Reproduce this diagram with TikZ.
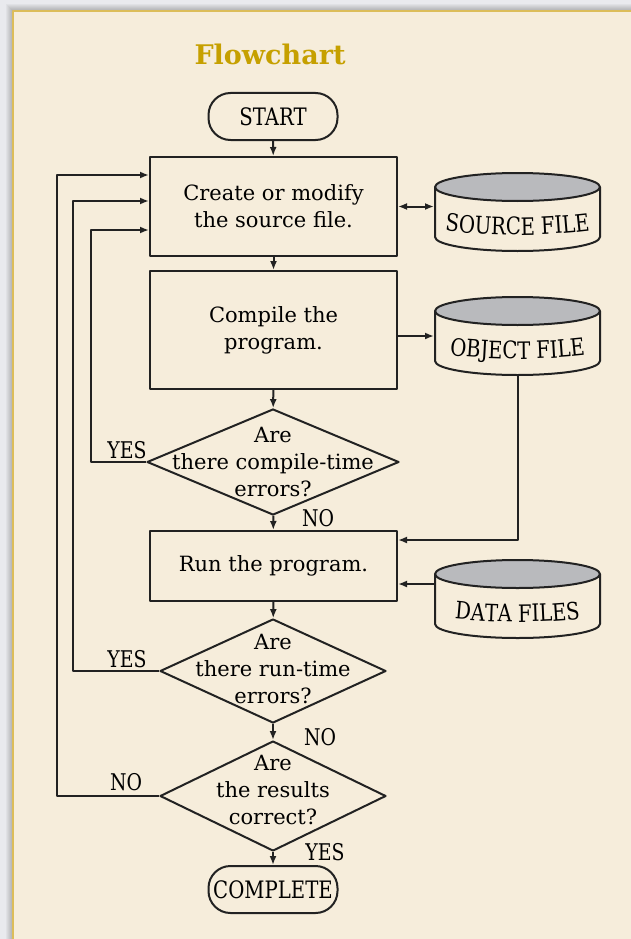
\documentclass[tikz,border=0pt]{standalone}
\usepackage{fontspec}
\setmainfont{DejaVu Serif}
\newfontfamily\condserif{DejaVu Serif}[FakeStretch=0.82]
\usetikzlibrary{shapes.geometric,arrows.meta,decorations.text}

\definecolor{page}{HTML}{E9EAEE}
\definecolor{paper}{HTML}{F6EDDB}
\definecolor{rim}{HTML}{DCBD5A}
\definecolor{titlegold}{HTML}{C6A000}
\definecolor{ink}{HTML}{222222}
\definecolor{lid}{HTML}{B9BABD}

% storage drum: name, centre x, lid centre y, label
\newcommand\drum[4]{%
  \node[minimum width=165pt, minimum height=78pt, inner sep=0pt] (#1) at (#2,#3+25) {};
  \filldraw[fill=paper, draw=ink] (#2-82.5,#3) -- (#2-82.5,#3+50)
     arc[start angle=180, end angle=360, x radius=82.5pt, y radius=14pt] -- (#2+82.5,#3);
  \filldraw[fill=lid, draw=ink] (#2,#3) ellipse[x radius=82.5pt, y radius=14pt];
  \path[decorate, decoration={text along path, text align=center,
        text={|\condserif\fontsize{24}{28}\selectfont|#4}}]
     (#2-85,#3+42) .. controls (#2-30,#3+50) and (#2+30,#3+50) .. (#2+85,#3+42);
}

\begin{document}
\begin{tikzpicture}[x=1pt, y=-1pt, line width=2pt, line join=round,
  proc/.style={draw=ink, rectangle, minimum width=247pt, inner sep=0pt,
    font=\fontsize{21}{27}\selectfont, align=center},
  term/.style={draw=ink, rounded corners=22pt, minimum width=129pt, minimum height=47pt,
    inner sep=0pt, font=\condserif\fontsize{24}{28}\selectfont},
  decision/.style={draw=ink, diamond, inner sep=0pt},
  dtext/.style={font=\fontsize{21}{27}\selectfont, align=center, inner sep=0pt},
  lbl/.style={font=\condserif\fontsize{23}{26}\selectfont, inner sep=0pt},
  arr/.style={draw=ink, -{Latex[length=9pt,width=7pt]}},
  dbl/.style={draw=ink, {Latex[length=9pt,width=7pt]}-{Latex[length=9pt,width=7pt]}}]

% page, shadow and panel
\useasboundingbox (0,0) rectangle (631,939);
\fill[page] (0,0) rectangle (631,939);
\foreach \i in {1,...,7} {
  \fill[black, opacity=0.035] (13-\i,11-\i) rectangle (631,939);
}
\fill[paper] (13,11) rectangle (631,939);
\draw[rim, line width=2pt] (13,939) -- (13,11) -- (631,11);

% title
\node[font=\bfseries\fontsize{27}{30}\selectfont, text=titlegold] (title) at (270,54) {Flowchart};

% main column
\node[term] (start) at (273,116.5) {START};
\node[proc, minimum height=99pt] (edit) at (273.5,206.5) {Create or modify\\the source file.};
\node[proc, minimum height=118pt] (comp) at (273.5,330) {Compile the\\program.};
\node[decision, minimum width=252pt, minimum height=106pt] (d1) at (273,462) {};
\node[dtext] at (d1.center) {Are\\there compile-time\\errors?};
\node[proc, minimum height=70pt] (run) at (273.5,566) {Run the program.};
\node[decision, minimum width=226pt, minimum height=104pt] (d2) at (273,671) {};
\node[dtext] at ([yshift=2pt]d2.center) {Are\\there run-time\\errors?};
\node[decision, minimum width=226pt, minimum height=110pt] (d3) at (273,796) {};
\node[dtext] at ([yshift=6pt]d3.center) {Are\\the results\\correct?};
\node[term] (done) at (273,889.5) {COMPLETE};

% files
\drum{src}{517.5}{187}{SOURCE FILE}
\drum{obj}{517.5}{311}{OBJECT FILE}
\drum{data}{517.5}{574}{DATA FILES}

% flow
\draw[arr] (start) -- (edit);
\draw[arr] (edit) -- (comp);
\draw[arr] (comp) -- (d1);
\draw[arr] (d1) -- (run);
\draw[arr] (run) -- (d2);
\draw[arr] (d2) -- (d3);
\draw[arr] (d3) -- (done);

\draw[dbl] (edit.east) -- (edit.east -| src.west);
\draw[arr] (comp.east |- obj.west) -- (obj.west);
\draw[arr] (obj.south) |- ([yshift=-10pt]run.north east);
\draw[arr] ([yshift=-18pt]run.east -| data.west) -- ([yshift=-18pt]run.east);

% loops back to editing
\coordinate (l1) at (91,230);
\coordinate (l2) at (73,201);
\coordinate (l3) at (57,175);
\draw[arr] (d1.west) -| (l1) -- (edit.west |- l1);
\draw[arr] (d2.west) -| (l2) -- (edit.west |- l2);
\draw[arr] (d3.west) -| (l3) -- (edit.west |- l3);

% branch labels
\node[lbl] (y1) at (127,450) {YES};
\node[lbl] (n1) at (318,518) {NO};
\node[lbl] (y2) at (127,659) {YES};
\node[lbl] (n2) at (320,737) {NO};
\node[lbl] (n3) at (126,782) {NO};
\node[lbl] (y3) at (325,852) {YES};
\end{tikzpicture}
\end{document}
